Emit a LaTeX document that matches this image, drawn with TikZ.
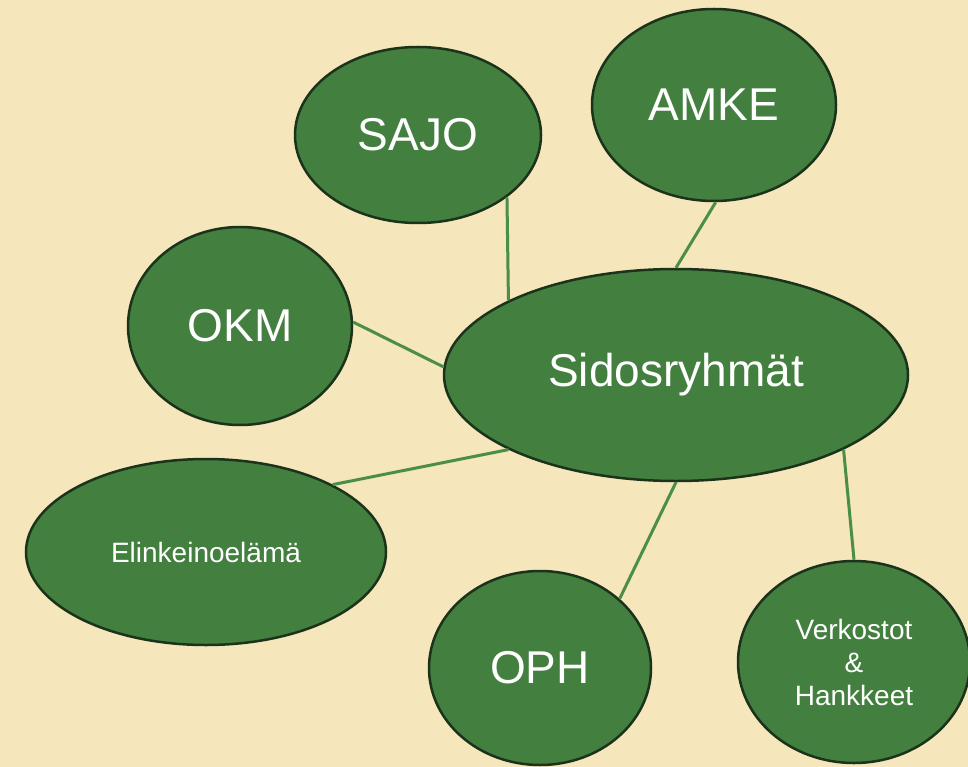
\documentclass[tikz,border=0pt]{standalone}
\usepackage{fontspec}
\setmainfont{Liberation Sans}
\usetikzlibrary{shapes.geometric}
\definecolor{bgwheat}{HTML}{F5E6BB}
\definecolor{leaf}{HTML}{437F3F}
\definecolor{rim}{HTML}{1A331A}
\definecolor{link}{HTML}{4A8E47}
\tikzset{
  blob/.style={ellipse,draw=rim,fill=leaf,line width=2.5pt,inner sep=0pt,text=white,align=center},
  bigtxt/.style={font=\fontsize{46}{52}\selectfont},
  smalltxt/.style={font=\fontsize{28}{33}\selectfont},
  link/.style={-,draw=link,line width=3pt}
}
\begin{document}
\begin{tikzpicture}[x=1pt,y=-1pt]
\fill[bgwheat] (0,0) rectangle (968,767);
\useasboundingbox (0,0) rectangle (968,767);

\node[blob,bigtxt,minimum width=464pt,minimum height=212pt] (sidos) at (676,375){Sidosryhmät};
\node[blob,bigtxt,minimum width=246pt,minimum height=176pt] (sajo) at (418,135){SAJO};
\node[blob,bigtxt,minimum width=244pt,minimum height=192pt] (amke) at (714,105){AMKE};
\node[blob,bigtxt,minimum width=224pt,minimum height=198pt] (okm) at (240,326){OKM};
\node[blob,smalltxt,minimum width=360pt,minimum height=186pt] (elink) at (206,552){Elinkeinoelämä};
\node[blob,bigtxt,minimum width=222pt,minimum height=194pt] (oph) at (540,668){OPH};
\node[blob,smalltxt,minimum width=232pt,minimum height=202pt] (verk) at (854,662){Verkostot\\\&\\Hankkeet};

%%%%%%%%
\path [link] (sajo.-35) edge (sidos.156);
\path [link] (amke.-89) edge (sidos.90);
\path [link] (okm.2) edge (sidos.178);
\path [link] (elink.28) edge (sidos.204);
\path [link] (oph.41) edge (sidos.270);
\path [link] (verk.90) edge (sidos.-24);
%%%%%%%%%%%%

\end{tikzpicture}
\end{document}
